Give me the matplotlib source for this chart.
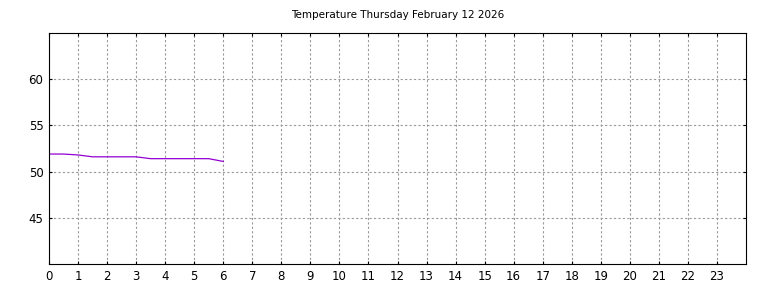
import matplotlib
matplotlib.use('Agg')
import matplotlib.pyplot as plt

# readings through the morning (hour of day, degrees)
hours = [0.0, 0.5, 1.0, 1.5, 2.0, 2.5, 3.0, 3.5, 4.0, 4.5, 5.0, 5.5, 6.0]
temps = [51.9, 51.9, 51.8, 51.6, 51.6, 51.6, 51.6, 51.4, 51.4, 51.4, 51.4, 51.4, 51.1]
x_ticks = list(range(0, 24))
y_ticks = [45, 50, 55, 60]
title = 'Temperature Thursday February 12 2026'

fig = plt.figure(figsize=(7.68, 2.88), dpi=100)
ax = fig.add_axes([49 / 768, 24 / 288, 697 / 768, 231 / 288])

ax.plot(hours, temps, color='#9400d3', linewidth=0.9)

ax.set_xlim(0, 24)
ax.set_ylim(40, 65)
ax.set_xticks(x_ticks)
ax.set_yticks(y_ticks)
ax.tick_params(direction='in', top=True, right=True, labelsize=8.5, length=2.5, pad=4)
ax.grid(True, linestyle=(0, (2, 2)), color='#999999', linewidth=0.8)
ax.set_title(title, fontsize=7.5, pad=11)

fig.savefig('out.png', dpi=100)
